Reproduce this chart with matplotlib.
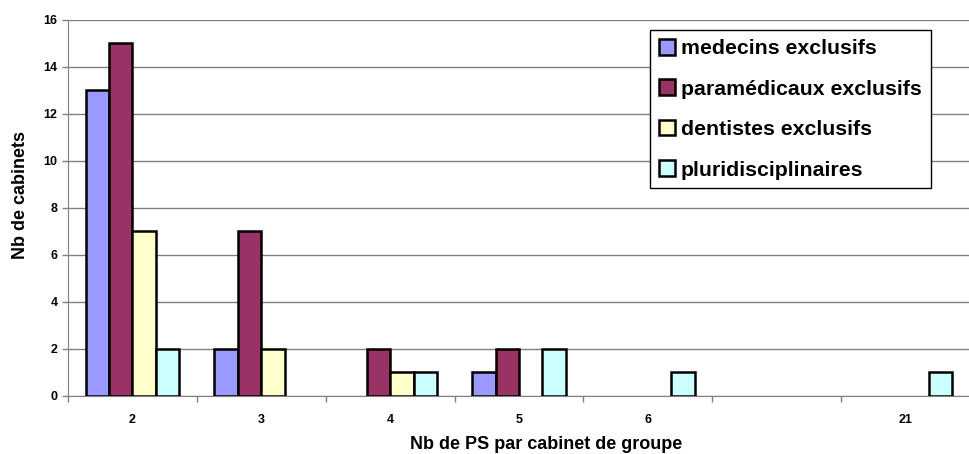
import numpy as np
from matplotlib import pyplot as plt

categories = ['2', '3', '4', '5', '6', '', '21']
medecins = [13, 2, 0, 1, 0, 0, 0]
paramedicaux = [15, 7, 2, 2, 0, 0, 0]
dentistes = [7, 2, 1, 0, 0, 0, 0]
pluri = [2, 0, 1, 2, 1, 0, 1]

series = [medecins, paramedicaux, dentistes, pluri]
names = ['medecins exclusifs', 'paramédicaux exclusifs', 'dentistes exclusifs', 'pluridisciplinaires']
colors = ['#9999FF', '#993366', '#FFFFCC', '#CCFFFF']

plt.rcParams['font.family'] = ['Liberation Sans', 'DejaVu Sans']
plt.rcParams['font.weight'] = 'bold'

fig = plt.figure(figsize=(9.7, 4.54), dpi=100)
ax = fig.add_axes([0.0701, 0.1278, 0.9299, 0.8292])

x = np.arange(len(categories))
w = 0.182
for i, (vals, name, col) in enumerate(zip(series, names, colors)):
    vals = np.array(vals, dtype=float)
    # empty cells are not drawn at all
    heights = np.where(vals > 0, vals, np.nan)
    ax.bar(x + (i - 1.5) * w, heights, w, color=col, edgecolor='black', linewidth=1.8,
           label=name, zorder=3)

ax.set_xlim(-0.5, 6.4)
ax.set_ylim(0, 16)
ax.set_yticks(range(0, 17, 2))
ax.yaxis.grid(True, color='#808080', linewidth=1, zorder=0)

# tick marks on category boundaries, labels at centres
ax.set_xticks(np.arange(-0.5, 7, 1))
ax.set_xticklabels([])
ax.set_xticks(x, minor=True)
ax.set_xticklabels(categories, minor=True)
ax.tick_params(axis='x', which='minor', length=0, pad=13, labelsize=9)
ax.tick_params(axis='x', which='major', length=4, width=1, color='#808080', direction='out')
ax.tick_params(axis='y', length=4, width=1, color='#808080', direction='out', labelsize=9)

for s in ['top', 'right']:
    ax.spines[s].set_visible(False)
ax.spines['left'].set_color('#808080')
ax.spines['bottom'].set_color('#808080')

ax.set_ylabel('Nb de cabinets', fontsize=13, fontweight='bold')
ax.yaxis.set_label_coords(-0.043, 0.535)
ax.set_xlabel('Nb de PS par cabinet de groupe', fontsize=13, fontweight='bold')
ax.xaxis.set_label_coords(0.53, -0.107)

leg = ax.legend(loc='upper left', bbox_to_anchor=(0.645, 0.972), fontsize=15.3,
                frameon=True, fancybox=False, edgecolor='black', framealpha=1,
                handlelength=0.75, handleheight=0.75, handletextpad=0.3,
                labelspacing=1.0, borderpad=0.42, borderaxespad=0)
leg.get_frame().set_linewidth(1)
leg.set_zorder(5)

fig.savefig('out.png', dpi=100)
